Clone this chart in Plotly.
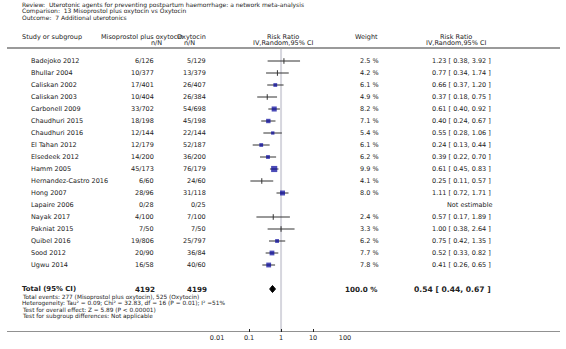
import plotly.graph_objects as go

W, H = 566, 349

studies = ["Badejoko 2012", "Bhullar 2004", "Caliskan 2002", "Caliskan 2003", "Carbonell 2009",
           "Chaudhuri 2015", "Chaudhuri 2016", "El Tahan 2012", "Elsedeek 2012", "Hamm 2005",
           "Hernandez-Castro 2016", "Hong 2007", "Lapaire 2006", "Nayak 2017", "Pakniat 2015",
           "Quibel 2016", "Sood 2012", "Ugwu 2014"]
exp_nN = ["6/126", "10/377", "17/401", "10/404", "33/702", "18/198", "12/144", "12/179", "14/200",
          "45/173", "6/60", "28/96", "0/28", "4/100", "7/50", "19/806", "20/90", "16/58"]
ctl_nN = ["5/129", "13/379", "26/407", "26/384", "54/698", "45/198", "22/144", "52/187", "36/200",
          "76/179", "24/60", "31/118", "0/25", "7/100", "7/50", "25/797", "36/84", "40/60"]
rr = [1.23, 0.77, 0.66, 0.37, 0.61, 0.40, 0.55, 0.24, 0.39, 0.61, 0.25, 1.11, None, 0.57, 1.00, 0.75, 0.52, 0.41]
lo = [0.38, 0.34, 0.37, 0.18, 0.40, 0.24, 0.28, 0.13, 0.22, 0.45, 0.11, 0.72, None, 0.17, 0.38, 0.42, 0.33, 0.26]
hi = [3.92, 1.74, 1.20, 0.75, 0.92, 0.67, 1.06, 0.44, 0.70, 0.83, 0.57, 1.71, None, 1.89, 2.64, 1.35, 0.82, 0.65]
weight = [2.5, 4.2, 6.1, 4.9, 8.2, 7.1, 5.4, 6.1, 6.2, 9.9, 4.1, 8.0, None, 2.4, 3.3, 6.2, 7.7, 7.8]

total_exp, total_ctl = "4192", "4199"
total_rr, total_lo, total_hi = 0.54, 0.44, 0.67
total_weight = "100.0 %"

title_lines = ["Review:  Uterotonic agents for preventing postpartum haemorrhage: a network meta-analysis",
               "Comparison:  13 Misoprostol plus oxytocin vs Oxytocin",
               "Outcome:  7 Additional uterotonics"]
footer_lines = ["Total events: 277 (Misoprostol plus oxytocin), 525 (Oxytocin)",
                "Heterogeneity: Tau\u00b2 = 0.09; Chi\u00b2 = 32.83, df = 16 (P = 0.01); I\u00b2 =51%",
                "Test for overall effect: Z = 5.89 (P < 0.00001)",
                "Test for subgroup differences: Not applicable"]
tick_vals = [0.01, 0.1, 1, 10, 100]
tick_text = ["0.01", "0.1", "1", "10", "100"]

FONT = "DejaVu Sans"
TXT = "#222222"
NAVY = "#00009A"

y0, step = 61, 12
ys = [y0 + step * i for i in range(len(studies))]
y_total = 289
y_axis = 332

fig = go.Figure()

# line of no effect
fig.add_trace(go.Scatter(x=[1, 1], y=[48, y_axis], mode="lines",
                         line=dict(color="#d6d6de", width=2), hoverinfo="skip", showlegend=False))
# CI lines
for r, l, h, y in zip(rr, lo, hi, ys):
    if r is None:
        continue
    fig.add_trace(go.Scatter(x=[l, h], y=[y, y], mode="lines",
                             line=dict(color="#333333", width=1), hoverinfo="skip", showlegend=False))
# squares (large weights) and ticks (small weights)
mx, my, ms = [], [], []
tx, ty = [], []
for r, w, y in zip(rr, weight, ys):
    if r is None:
        continue
    if w >= 5:
        mx.append(r); my.append(y); ms.append(0.62 * w)
    else:
        tx.append(r); ty.append(y)
fig.add_trace(go.Scatter(x=mx, y=my, mode="markers",
                         marker=dict(symbol="square", size=ms, color=NAVY, line=dict(width=0)),
                         hoverinfo="skip", showlegend=False))
fig.add_trace(go.Scatter(x=tx, y=ty, mode="markers",
                         marker=dict(symbol="line-ns", size=4, color="#333333",
                                     line=dict(width=1, color="#333333")),
                         hoverinfo="skip", showlegend=False))
# diamond
fig.add_trace(go.Scatter(x=[total_lo, total_rr, total_hi, total_rr, total_lo],
                         y=[y_total, y_total - 3.5, y_total, y_total + 3.5, y_total],
                         mode="lines", fill="toself", fillcolor="black",
                         line=dict(color="black", width=1), hoverinfo="skip", showlegend=False))

ann = []


def text(x, y, s, anchor="left", size=6.5, bold=False, color=TXT):
    ann.append(dict(x=x / W, y=y, xref="paper", yref="y", text=("<b>%s</b>" % s) if bold else s,
                    showarrow=False, xanchor=anchor, yanchor="middle",
                    font=dict(family=FONT, size=size, color=color)))


for i, s in enumerate(title_lines):
    text(13, 5 + 6 * i, s, size=6)

text(13, 37, "Study or subgroup")
text(94, 37, "Misoprostol plus oxytocin")
text(153, 43, "n/N", "center")
text(172, 37, "Oxytocin")
text(187, 43, "n/N", "center")
text(282, 37, "Risk Ratio", "center")
text(282, 43, "IV,Random,95% CI", "center")
text(368, 37, "Weight", "center")
text(460, 37, "Risk Ratio", "center")
text(460, 43, "IV,Random,95% CI", "center")

for i, y in enumerate(ys):
    text(23, y, studies[i])
    text(153, y, exp_nN[i], "right")
    text(206, y, ctl_nN[i], "right")
    if rr[i] is None:
        text(498, y, "Not estimable", "right")
    else:
        text(383, y, "%.1f %%" % weight[i], "right")
        text(497, y, "%.2f [ %.2f, %.2f ]" % (rr[i], lo[i], hi[i]), "right")

text(13, y_total, "Total (95% CI)", size=6.9, bold=True)
text(154, y_total, total_exp, "right", size=7.2, bold=True)
text(207, y_total, total_ctl, "right", size=7.2, bold=True)
text(381, y_total, total_weight, "right", size=7.2, bold=True)
text(497, y_total, "%.2f [ %.2f, %.2f ]" % (total_rr, total_lo, total_hi), "right", size=7.6, bold=True)

for i, s in enumerate(footer_lines):
    text(13, 297 + 6.4 * i, s, size=5.8)

text(222, 344, "Favours Misoprostol plus oxytocin", "right")
text(282, 344, "Favours Oxytocin", "left")

shapes = [
    dict(type="line", xref="paper", yref="y", x0=0, x1=1, y0=48, y1=48, line=dict(color="#9a9a9a", width=2)),
    dict(type="line", xref="paper", yref="y", x0=0, x1=1, y0=y_axis, y1=y_axis, line=dict(color="#222222", width=1)),
]

fig.update_layout(
    width=W, height=H, margin=dict(l=0, r=0, t=0, b=0),
    paper_bgcolor="white", plot_bgcolor="rgba(0,0,0,0)",
    annotations=ann, shapes=shapes, showlegend=False,
    xaxis=dict(type="log", range=[-2, 2], domain=[215 / W, 346 / W], showgrid=False, zeroline=False,
               showline=False, ticks="inside", ticklen=3, tickcolor="#222222",
               tickvals=tick_vals, ticktext=tick_text,
               tickfont=dict(family=FONT, size=6.5, color=TXT), fixedrange=True),
    yaxis=dict(range=[y_axis, 0], domain=[(H - y_axis) / H, 1], visible=False, fixedrange=True),
)

fig.write_html("out.html", config={"displayModeBar": False},
               post_script="document.body.style.margin='0px';document.body.style.overflow='hidden';")
